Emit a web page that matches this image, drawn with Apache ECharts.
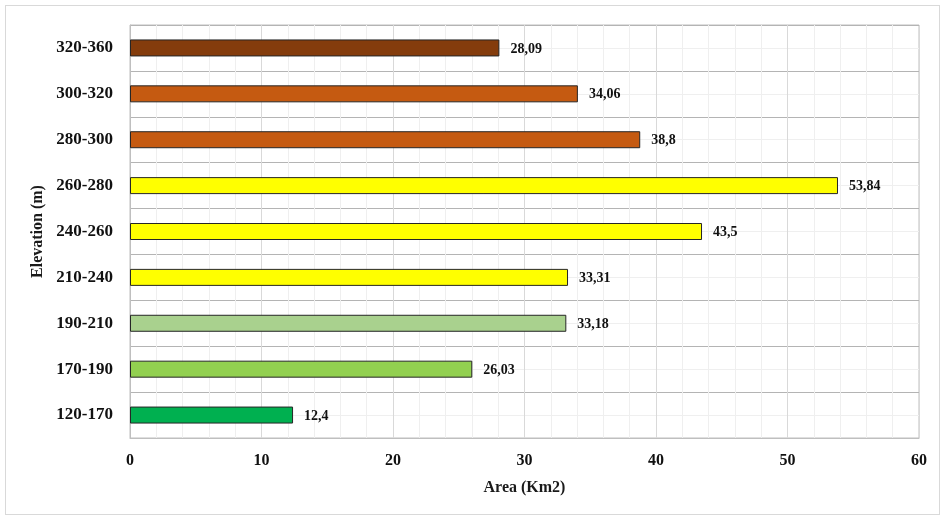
<!DOCTYPE html>
<html>
<head>
<meta charset="utf-8">
<script src="https://cdn.jsdelivr.net/npm/echarts@6/dist/echarts.min.js"></script>
<style>
  html, body { margin: 0; padding: 0; background: #fff; }
  #frame { position: absolute; left: 5px; top: 5px; width: 935px; height: 510px; border: 1px solid #d9d9d9; box-sizing: border-box; }
  #chart { position: absolute; left: 0; top: 0; width: 946px; height: 517px; }
</style>
</head>
<body>
<div id="frame"></div>
<div id="chart"></div>
<script>
// Elevation bands, bottom to top
const categories = ['120-170', '170-190', '190-210', '210-240', '240-260', '260-280', '280-300', '300-320', '320-360'];
// Area per band (Km2)
const areas = [12.4, 26.03, 33.18, 33.31, 43.5, 53.84, 38.8, 34.06, 28.09];
// Fill colour per band
const bandColors = ['#00B050', '#92D050', '#A9D18E', '#FFFF00', '#FFFF00', '#FFFF00', '#C55A11', '#C55A11', '#843C0C'];
const xTicks = [0, 10, 20, 30, 40, 50, 60];

const font = '"Liberation Serif", "Times New Roman", serif';
const chart = echarts.init(document.getElementById('chart'), null, { renderer: 'canvas' });

chart.setOption({
  animation: false,
  backgroundColor: 'transparent',
  grid: {
    left: 130, right: 27, top: 25, bottom: 79,
    show: true, borderColor: '#bfbfbf', borderWidth: 1, backgroundColor: 'transparent'
  },
  xAxis: {
    type: 'value',
    min: xTicks[0], max: xTicks[xTicks.length - 1], interval: 10,
    name: 'Area (Km2)',
    nameLocation: 'middle',
    nameGap: 42,
    nameTextStyle: { fontFamily: font, fontWeight: 'bold', fontSize: 16, color: '#1a1a1a' },
    axisLine: { show: true, lineStyle: { color: '#bfbfbf' } },
    axisTick: { show: false },
    axisLabel: { fontFamily: font, fontWeight: 'bold', fontSize: 16, color: '#111', margin: 15 },
    splitLine: { show: true, lineStyle: { color: '#d9d9d9', width: 1 } },
    minorTick: { show: false, splitNumber: 5 },
    minorSplitLine: { show: true, lineStyle: { color: '#efefef', width: 1 } }
  },
  yAxis: [
    {
      type: 'category',
      data: categories,
      name: 'Elevation (m)',
      nameLocation: 'middle',
      nameGap: 83,
      nameRotate: 90,
      nameTextStyle: { fontFamily: font, fontWeight: 'bold', fontSize: 16, color: '#1a1a1a' },
      axisLine: { show: true, lineStyle: { color: '#bfbfbf' } },
      axisTick: { show: false },
      axisLabel: { fontFamily: font, fontWeight: 'bold', fontSize: 17, color: '#111', margin: 17 },
      splitLine: { show: false }
    },
    {
      // helper axis: band boundaries (darker) and band centres (faint)
      type: 'value',
      min: 0, max: 18, interval: 1,
      show: true,
      axisLine: { show: false },
      axisTick: { show: false },
      axisLabel: { show: false },
      splitLine: { show: true, lineStyle: { color: ['#b4b4b4', '#efefef'], width: 1 } }
    }
  ],
  series: [{
    type: 'bar',
    yAxisIndex: 0,
    barWidth: 17,
    data: areas.map((v, i) => ({
      value: v,
      itemStyle: { color: bandColors[i], borderColor: '#262626', borderWidth: 1 }
    })),
    label: {
      show: true,
      position: 'right',
      distance: 11,
      offset: [0, 1],
      fontFamily: font,
      fontWeight: 'bold',
      fontSize: 14,
      color: '#111',
      formatter: p => String(p.value).replace('.', ',')
    },
    z: 3
  }]
});
</script>
</body>
</html>
